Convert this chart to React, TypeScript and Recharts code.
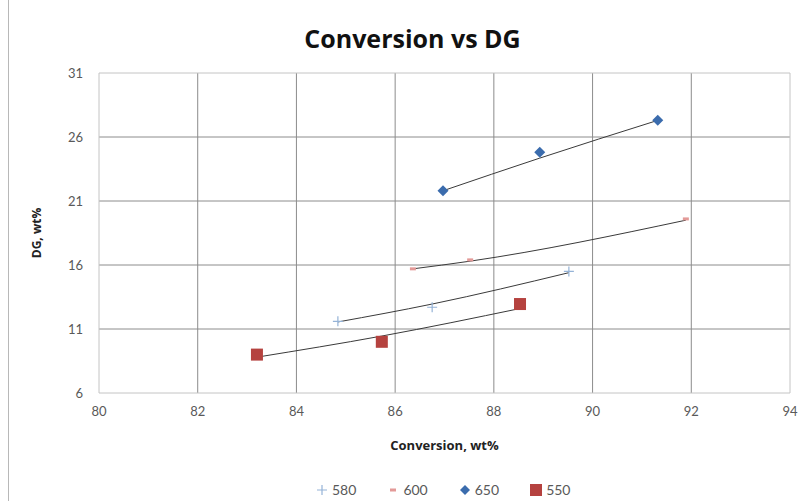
import React from "react";
import {
  CartesianGrid,
  Label,
  ReferenceLine,
  Scatter,
  ScatterChart,
  XAxis,
  YAxis,
} from "recharts";

const FONT = "Lato, 'Open Sans', sans-serif";
const TITLE_FONT = "'Open Sans', Lato, sans-serif";
const TICK = "#595959";
const GRID = "#8c8c8c";
const EDGE = "#c4c4c4";
const TREND = "#3a3a3a";

const C580 = "#95b3d7";
const C600 = "#e39a98";
const C650 = "#3b6cad";
const C550 = "#b5423f";

const xTicks = [80, 82, 84, 86, 88, 90, 92, 94];
const yTicks = [6, 11, 16, 21, 26, 31];

// measured points
const s580 = [
  { x: 84.84, y: 11.6 },
  { x: 86.75, y: 12.7 },
  { x: 89.52, y: 15.5 },
];
const s600 = [
  { x: 86.36, y: 15.7 },
  { x: 87.52, y: 16.4 },
  { x: 91.89, y: 19.6 },
];
const s650 = [
  { x: 86.97, y: 21.8 },
  { x: 88.93, y: 24.8 },
  { x: 91.32, y: 27.3 },
];
const s550 = [
  { x: 83.2, y: 9.0 },
  { x: 85.73, y: 10.0 },
  { x: 88.53, y: 12.95 },
];

// trendlines
const t580 = [
  { x: 84.84, y: 11.55 },
  { x: 86.75, y: 12.95 },
  { x: 89.52, y: 15.4 },
];
const t600 = [
  { x: 86.36, y: 15.7 },
  { x: 87.52, y: 16.3 },
  { x: 91.89, y: 19.5 },
];
const t650 = [
  { x: 86.97, y: 21.8 },
  { x: 88.93, y: 24.35 },
  { x: 91.32, y: 27.3 },
];
const t550 = [
  { x: 83.2, y: 8.8 },
  { x: 85.73, y: 10.45 },
  { x: 88.53, y: 12.6 },
];

const Plus = ({ cx, cy }: any) => (
  <path d={`M${cx - 5},${cy}H${cx + 5}M${cx},${cy - 5}V${cy + 5}`} stroke={C580} strokeWidth={1.2} />
);
const Dash = ({ cx, cy }: any) => (
  <rect x={cx - 3} y={cy - 1.5} width={6} height={3} fill={C600} />
);
const Diamond = ({ cx, cy }: any) => (
  <path d={`M${cx},${cy - 5.5}L${cx + 5.5},${cy}L${cx},${cy + 5.5}L${cx - 5.5},${cy}Z`} fill={C650} />
);
const Square = ({ cx, cy }: any) => (
  <rect x={cx - 6} y={cy - 6} width={12} height={12} fill={C550} />
);
const None = () => <g />;

const legendItems = [
  { name: "580", icon: <path d="M1,6H11M6,1V11" stroke={C580} strokeWidth={1.2} /> },
  { name: "600", icon: <rect x={3} y={4.5} width={6} height={3} fill={C600} /> },
  { name: "650", icon: <path d="M6,1L11,6L6,11L1,6Z" fill={C650} /> },
  { name: "550", icon: <rect x={0} y={0} width={12} height={12} fill={C550} /> },
];

export default function App() {
  return (
    <div
      style={{
        position: "absolute",
        left: 0,
        top: 0,
        width: 807,
        height: 501,
        background: "#fff",
        fontFamily: FONT,
      }}
    >
      <div style={{ position: "absolute", left: 8, top: 0, width: 1, height: 501, background: "#b8b8b8" }} />
      <div
        style={{
          position: "absolute",
          left: 0,
          width: 825,
          top: 22,
          textAlign: "center",
          fontSize: 25,
          fontWeight: 700,
          color: "#111",
          fontFamily: TITLE_FONT,
          lineHeight: "32px",
        }}
      >
        Conversion vs DG
      </div>
      <ScatterChart
        width={807}
        height={501}
        margin={{ top: 73, right: 17, bottom: 46, left: 0 }}
        style={{ position: "absolute", left: 0, top: 0 }}
      >
        <CartesianGrid
          stroke={GRID}
          horizontalValues={[11, 16, 21, 26]}
          verticalValues={[82, 84, 86, 88, 90, 92]}
        />
        <ReferenceLine y={31} stroke={EDGE} />
        <ReferenceLine x={94} stroke={EDGE} />
        <XAxis
          type="number"
          dataKey="x"
          domain={[80, 94]}
          ticks={xTicks}
          allowDataOverflow
          stroke={EDGE}
          tickLine={false}
          tickSize={8}
          tickMargin={6}
          tick={{ fontSize: 13, fill: TICK, fontFamily: FONT }}
          height={62}
        >
          <Label
            value="Conversion, wt%"
            position="insideBottom"
            offset={5}
            style={{ fontSize: 13, fontWeight: 700, fill: "#222", fontFamily: TITLE_FONT }}
          />
        </XAxis>
        <YAxis
          type="number"
          dataKey="y"
          domain={[6, 31]}
          ticks={yTicks}
          allowDataOverflow
          stroke={EDGE}
          tickLine={false}
          tickSize={8}
          tickMargin={8}
          tick={{ fontSize: 13, fill: TICK, fontFamily: FONT }}
          width={99}
        >
          <Label
            value="DG, wt%"
            angle={-90}
            position="insideLeft"
            offset={37}
            style={{ fontSize: 12, fontWeight: 700, fill: "#222", fontFamily: TITLE_FONT, textAnchor: "middle" }}
          />
        </YAxis>
        <Scatter data={t580} line={{ stroke: TREND, strokeWidth: 1 }} lineJointType="monotoneX" shape={None} isAnimationActive={false} />
        <Scatter data={t600} line={{ stroke: TREND, strokeWidth: 1 }} lineJointType="monotoneX" shape={None} isAnimationActive={false} />
        <Scatter data={t650} line={{ stroke: TREND, strokeWidth: 1 }} lineJointType="monotoneX" shape={None} isAnimationActive={false} />
        <Scatter data={t550} line={{ stroke: TREND, strokeWidth: 1 }} lineJointType="monotoneX" shape={None} isAnimationActive={false} />
        <Scatter name="580" data={s580} shape={Plus} isAnimationActive={false} />
        <Scatter name="600" data={s600} shape={Dash} isAnimationActive={false} />
        <Scatter name="650" data={s650} shape={Diamond} isAnimationActive={false} />
        <Scatter name="550" data={s550} shape={Square} isAnimationActive={false} />
      </ScatterChart>
      <div
        style={{
          position: "absolute",
          left: 316,
          top: 481,
          display: "flex",
          gap: 31,
          fontSize: 14,
          color: TICK,
          alignItems: "center",
        }}
      >
        {legendItems.map((it) => (
          <div key={it.name} style={{ display: "flex", alignItems: "center", gap: 4 }}>
            <svg width={12} height={12}>{it.icon}</svg>
            <span>{it.name}</span>
          </div>
        ))}
      </div>
    </div>
  );
}
